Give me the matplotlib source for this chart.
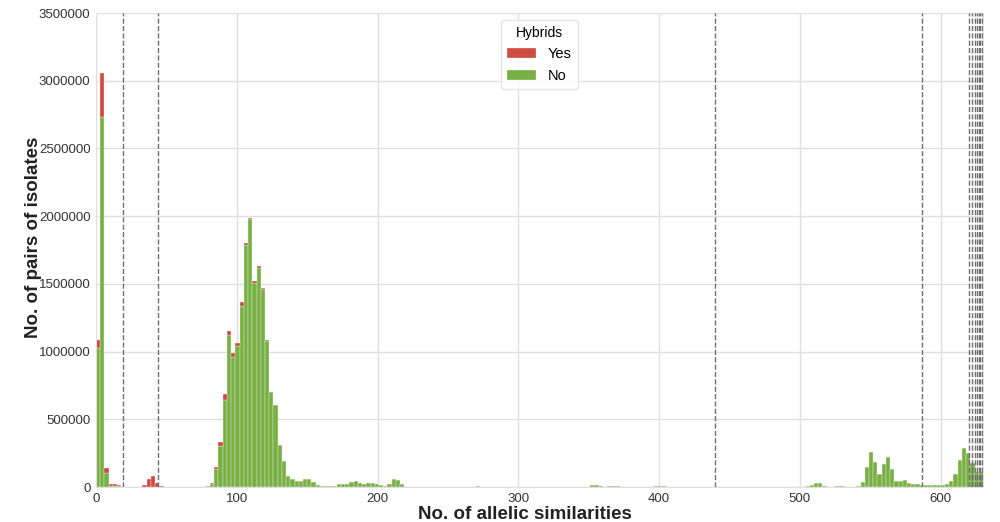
import numpy as np
import matplotlib
matplotlib.use("Agg")
from matplotlib import pyplot as plt

# bin left edges (width 3) and counts (millions)
bin_width = 3
bin_left = [0, 3, 6, 9, 12, 15, 33, 36, 39, 42, 45, 51, 54, 72, 75,
            78, 81, 84, 87, 90, 93, 96, 99, 102, 105, 108, 111, 114, 117, 120,
            123, 126, 129, 132, 135, 138, 141, 144, 147, 150, 153, 156, 159, 162,
            165, 168, 171, 174, 177, 180, 183, 186, 189, 192, 195, 198, 201, 204,
            207, 210, 213, 216, 231, 270, 351, 354, 357, 363, 366, 369, 387, 396,
            399, 402, 501, 504, 507, 510, 513, 516, 519, 522, 525, 528, 531, 534,
            537, 540, 543, 546, 549, 552, 555, 558, 561, 564, 567, 570, 573, 576,
            579, 582, 585, 588, 591, 594, 597, 600, 603, 606, 609, 612, 615, 618,
            621, 624, 627]
no_hybrid = [1.030, 2.735, 0.105, 0.005, 0.008, 0.010, 0, 0, 0, 0, 0, 0, 0, 0, 0,
             0.005, 0.025, 0.135, 0.305, 0.642, 1.120, 0.960, 1.041, 1.336, 1.787,
             1.976, 1.509, 1.620, 1.460, 1.080, 0.700, 0.605, 0.310, 0.192, 0.085,
             0.058, 0.043, 0.044, 0.059, 0.060, 0.035, 0.017, 0.010, 0.004, 0.004,
             0.010, 0.020, 0.019, 0.020, 0.037, 0.042, 0.032, 0.020, 0.027, 0.030,
             0.020, 0.012, 0.010, 0.020, 0.057, 0.054, 0.025, 0.003, 0.004, 0.015,
             0.018, 0.008, 0.008, 0.010, 0.008, 0.003, 0.008, 0.010, 0.010, 0.003,
             0.007, 0.015, 0.027, 0.027, 0.010, 0.003, 0.003, 0.008, 0.008, 0.002,
             0.002, 0.002, 0.010, 0.037, 0.145, 0.260, 0.185, 0.093, 0.170, 0.220,
             0.135, 0.042, 0.046, 0.049, 0.030, 0.020, 0.020, 0.015, 0.012, 0.012,
             0.012, 0.012, 0.012, 0.022, 0.047, 0.096, 0.200, 0.290, 0.253, 0.175,
             0.113, 0.113]
yes_hybrid = [0.055, 0.320, 0.033, 0.015, 0.015, 0.002, 0.015, 0.057, 0.083, 0.027,
              0.008, 0.003, 0.003, 0.002, 0.002, 0.002, 0.007, 0.015, 0.025, 0.048,
              0.032, 0.027, 0.020, 0.030, 0.013, 0.010, 0.014, 0.010, 0.007, 0.005,
              0.003, 0.002]
yes_hybrid = yes_hybrid + [0] * (len(bin_left) - len(yes_hybrid))

# thresholds (dashed lines)
cutoffs = [19, 44, 440, 587, 620, 622.5, 624.5, 626, 627, 628, 629, 630]

red = "#cf4a42"
green = "#78b043"

plt.rcParams["font.family"] = ["Liberation Sans", "DejaVu Sans"]

fig = plt.figure(figsize=(10, 5.22), dpi=100)
ax = fig.add_axes([0.096, 0.067, 0.887, 0.908])

x = np.array(bin_left) + bin_width / 2
edges = np.arange(0, 630 + bin_width, bin_width)
no_w = np.array(no_hybrid) * 1e6
yes_w = np.array(yes_hybrid) * 1e6
ax.hist([x, x], bins=edges, weights=[no_w, yes_w], stacked=True,
        color=[green, red], edgecolor="#f4f4f4", linewidth=0.25,
        label=["No", "Yes"], zorder=2)

for c in cutoffs:
    ax.axvline(c, color="#707070", linestyle="--", linewidth=1, zorder=3)

ax.set_xlim(0, 630)
ax.set_ylim(0, 3500000)
ax.set_xticks([0, 100, 200, 300, 400, 500, 600])
ax.set_yticks(np.arange(0, 3500001, 500000))
ax.ticklabel_format(axis="y", style="plain", useOffset=False)
ax.grid(True, color="#e0e0e0", linewidth=1, zorder=0)
ax.set_axisbelow(True)
for s in ax.spines.values():
    s.set_color("#e0e0e0")
ax.tick_params(length=0, labelsize=9.5, colors="#333333", pad=4)

ax.set_xlabel("No. of allelic similarities", fontsize=13.5, fontweight="bold",
              color="#222222")
ax.set_ylabel("No. of pairs of isolates", fontsize=13.5, fontweight="bold",
              color="#222222")
ax.xaxis.set_label_coords(0.484, -0.040)
ax.yaxis.set_label_coords(-0.061, 0.527)

h, l = ax.get_legend_handles_labels()
leg = ax.legend(h[::-1], l[::-1], title="Hybrids", loc="upper center",
                fontsize=10.5, title_fontsize=10, frameon=True)
leg.get_frame().set_edgecolor("#e0e0e0")

plt.savefig("out.png", dpi=100)
